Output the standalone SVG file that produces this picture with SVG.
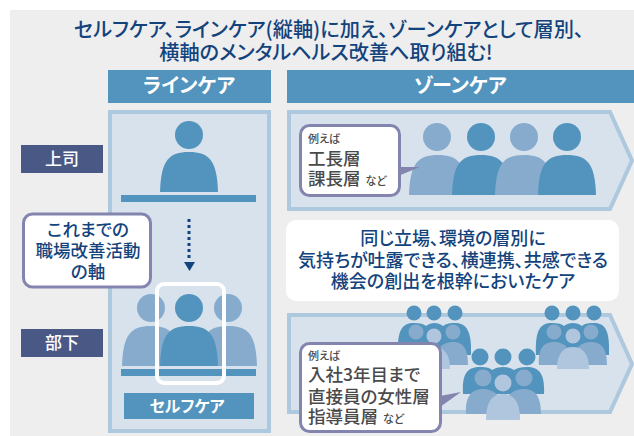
<svg xmlns="http://www.w3.org/2000/svg" width="634" height="436" viewBox="0 0 634 436">
<defs>
<style>
text{font-family:"Noto Sans CJK JP","Noto Sans",sans-serif;text-anchor:middle;font-feature-settings:"palt"}
.navy{fill:#13437c;font-weight:500}
.w{fill:#fff;font-weight:700}
.g{fill:#4a4a4a;text-anchor:start;font-weight:500}
.hd{fill:#5294bd}
.lt{fill:#86abcd}
.pale{fill:#afc6de}
.panel{fill:#d7e2ec;stroke:#aec8dd;stroke-width:4}
.call{fill:#fff;stroke:#8485ae;stroke-width:3}
.tag{fill:#4a5886}
</style>
<path id="p" d="M-29 40C-28 8-20 0 0 0C20 0 28 8 29 40Z"/>
</defs>
<rect x="10" y="10" width="624" height="426" fill="#eeeeee"/>
<g id="title">
<text class="navy" x="329" y="37" font-size="20.200">セルフケア、ラインケア(縦軸)に加え、ゾーンケアとして層別、</text>
<text class="navy" x="326" y="60" font-size="20.200">横軸のメンタルヘルス改善へ取り組む!</text>
</g>
<g id="line-header"><rect class="hd" x="108" y="70" width="163" height="33"/><text class="w" x="189" y="93" font-size="20">ラインケア</text></g>
<g id="zone-header"><rect class="hd" x="287" y="70" width="347" height="33"/><text class="w" x="460" y="93" font-size="20">ゾーンケア</text></g>
<g id="line-panel"><rect class="panel" x="110" y="112" width="159" height="319"/></g>
<g id="boss-tag"><rect class="tag" x="21" y="145" width="82" height="28"/><text class="w" x="62" y="165" font-size="17" style="font-weight:500">上司</text></g>
<g id="sub-tag"><rect class="tag" x="21" y="329" width="82" height="28"/><text class="w" x="62" y="349" font-size="17" style="font-weight:500">部下</text></g>
<g id="boss"><circle class="hd" cx="189" cy="135" r="14"/><use href="#p" class="hd" x="189" y="152"/><rect class="hd" x="121" y="195" width="135" height="7"/></g>
<g id="connectors"><path d="M189 219V261" stroke="#13437c" stroke-width="3" stroke-dasharray="3 3" fill="none"/><path d="M184 262H195L189.500 271Z" fill="#13437c"/></g>
<g id="staff">
<circle class="lt" cx="151" cy="308" r="14"/><circle class="lt" cx="228" cy="308" r="14"/>
<use href="#p" class="lt" x="151" y="326"/><use href="#p" class="lt" x="228" y="326"/>
<circle class="hd" cx="189" cy="308" r="14"/><use href="#p" class="hd" x="189" y="326"/>
<rect class="hd" x="121" y="369" width="135" height="7"/>
<rect x="157" y="284" width="67" height="99" rx="7" fill="none" stroke="#fff" stroke-width="4"/>
</g>
<g id="self-care"><rect class="hd" x="124" y="393" width="130" height="26"/><text class="w" x="187" y="412" font-size="16">セルフケア</text></g>
<g id="axis-note"><rect class="call" x="23.500" y="214" width="127" height="73" rx="9"/>
<text class="navy" x="88" y="236" font-size="17.500">これまでの</text><text class="navy" x="88" y="257" font-size="17.500">職場改善活動</text><text class="navy" x="88" y="278" font-size="17.500">の軸</text></g>
<g id="zone-top">
<path class="panel" d="M289 112H610L632 160.500L610 209H289Z"/>
<circle class="lt" cx="437" cy="137" r="14"/><circle class="hd" cx="481" cy="137" r="14"/><circle class="lt" cx="524" cy="137" r="14"/><circle class="hd" cx="567" cy="137" r="14"/>
<use href="#p" class="lt" x="438" y="155"/><use href="#p" class="hd" x="481" y="155"/><use href="#p" class="lt" x="524" y="155"/><use href="#p" class="hd" x="567" y="155"/>
<path d="M398 167L420 167L398 176Z" fill="#8485ae"/>
<rect class="call" x="300.500" y="125.500" width="99" height="70" rx="9"/>
<text class="g" x="308" y="143" font-size="11">例えば</text>
<text class="g" x="308" y="165" font-size="17.500">工長層</text>
<text class="g" x="308" y="185" font-size="17.500">課長層<tspan font-size="11" dx="5">など</tspan></text>
</g>
<g id="statement"><rect x="286" y="220" width="333" height="81" rx="10" fill="#fff"/>
<text class="navy" x="453" y="245" font-size="18">同じ立場、環境の層別に</text>
<text class="navy" x="453" y="267" font-size="18">気持ちが吐露できる、横連携、共感できる</text>
<text class="navy" x="453" y="288" font-size="18">機会の創出を根幹においたケア</text></g>
<g id="zone-bottom">
<path class="panel" d="M289 315H610L632 364L610 412H289Z"/>
<g id="team-a">
<circle class="hd" cx="414" cy="313" r="7.500"/><circle class="hd" cx="434" cy="313" r="7.500"/><circle class="hd" cx="455" cy="313" r="7.500"/>
<path class="hd" d="M398 355C397 330 402 323 414 323C420 323 424 324 426 326C431 322 438 322 443 326C447 323 451 323 455 323C467 323 472 332 471 355Z"/>
<circle class="lt" cx="416" cy="332" r="7.500"/><circle class="lt" cx="453" cy="332" r="7.500"/>
<path class="lt" d="M400 365C399 348 406 342 416 342C426 342 434 348 435 365ZM435 365C435 348 443 342 453 342C463 342 468 348 468 365Z"/>
<circle class="pale" cx="434" cy="336" r="7.500"/><path class="pale" d="M418 369C418 354 424 347 434 347C444 347 450 354 450 369Z"/>
</g>
<g id="team-b">
<circle class="hd" cx="552" cy="313" r="7.500"/><circle class="hd" cx="573" cy="313" r="7.500"/><circle class="hd" cx="594" cy="313" r="7.500"/>
<path class="hd" d="M536 355C535 330 540 323 552 323C558 323 562 324 564 326C569 322 577 322 582 326C585 323 590 323 594 323C606 323 610 332 609 355Z"/>
<circle class="lt" cx="554" cy="332" r="7.500"/><circle class="lt" cx="591" cy="332" r="7.500"/>
<path class="lt" d="M539 365C538 348 544 342 554 342C564 342 572 348 573 365ZM573 365C573 348 581 342 591 342C601 342 607 348 607 365Z"/>
<circle class="pale" cx="573" cy="336" r="7.500"/><path class="pale" d="M557 369C557 354 563 347 573 347C583 347 589 354 589 369Z"/>
</g>
<path d="M440 396L461 392L440 407Z" fill="#8485ae"/>
<rect class="call" x="300.500" y="343.500" width="140" height="88" rx="9"/>
<text class="g" x="308" y="360" font-size="11">例えば</text>
<text class="g" x="308" y="381" font-size="17.500">入社3年目まで</text>
<text class="g" x="308" y="403" font-size="17.500">直接員の女性層</text>
<text class="g" x="308" y="423" font-size="17.500">指導員層<tspan font-size="11" dx="5">など</tspan></text>
<g id="team-c">
<circle class="hd" cx="480" cy="357" r="8.500"/><circle class="hd" cx="503" cy="357" r="8.500"/><circle class="hd" cx="527" cy="357" r="8.500"/>
<path class="hd" d="M463 394C462 374 467 367 480 367C487 367 490 368 492 370C498 366 508 366 514 370C517 368 521 367 527 367C540 367 545 375 544 394Z"/>
<circle class="lt" cx="483" cy="378" r="8.500"/><circle class="lt" cx="524" cy="378" r="8.500"/>
<path class="lt" d="M466 414C465 396 472 389 483 389C494 389 503 396 503 414ZM503 414C503 396 513 389 524 389C535 389 541 396 541 414Z"/>
<circle class="pale" cx="503" cy="383" r="8.500"/><path class="pale" d="M486 420C486 402 492 394 503 394C514 394 520 402 520 420Z"/>
</g>
</g>
</svg>
